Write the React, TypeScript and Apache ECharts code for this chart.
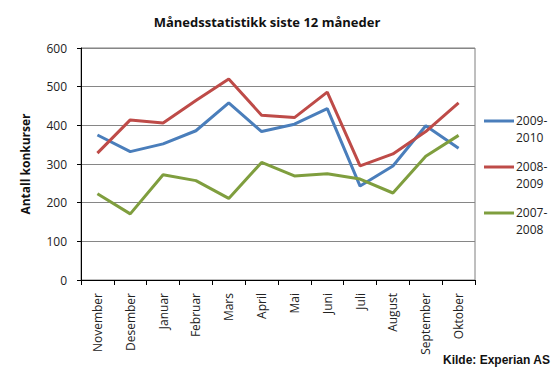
import React, { useEffect, useRef } from "react";
import * as echarts from "echarts";

const months = ["November", "Desember", "Januar", "Februar", "Mars", "April", "Mai", "Juni", "Juli", "August", "September", "Oktober"];
const seriesNames = ["2009-2010", "2008-2009", "2007-2008"];
const s2009_2010 = [375, 332, 352, 386, 458, 384, 403, 443, 243, 295, 399, 341];
const s2008_2009 = [328, 414, 406, 464, 520, 426, 420, 486, 295, 326, 384, 458];
const s2007_2008 = [223, 171, 272, 257, 211, 304, 269, 275, 261, 225, 320, 374];
const colors = ["#4a7ebb", "#be4b48", "#7f9e3e"];
const yTicks = { min: 0, max: 600, interval: 100 };

const FONT = "'Open Sans', 'Noto Sans', sans-serif";

export default function App() {
  const ref = useRef<HTMLDivElement>(null);
  useEffect(() => {
    if (!ref.current) return;
    const chart = echarts.init(ref.current, null, { renderer: "svg" });
    const data = [s2009_2010, s2008_2009, s2007_2008];
    const legendGraphics: any[] = [];
    seriesNames.forEach((name, i) => {
      const y = 121 + i * 46;
      legendGraphics.push({
        type: "line",
        shape: { x1: 484, y1: y, x2: 514, y2: y },
        style: { stroke: colors[i], lineWidth: 3 },
      });
      legendGraphics.push({
        type: "text",
        x: 516,
        y: y - 9,
        style: {
          text: name.replace("-", "-\n"),
          font: `12px ${FONT}`,
          fill: "#222",
          lineHeight: 17,
        },
      });
    });
    chart.setOption({
      animation: false,
      backgroundColor: "#ffffff",
      title: {
        text: "Månedsstatistikk siste 12 måneder",
        left: 262,
        textAlign: "center",
        top: 10,
        textStyle: { fontFamily: FONT, fontSize: 13, fontWeight: "bold", color: "#111" },
      },
      grid: {
        left: 81,
        right: 85,
        top: 48,
        bottom: 96,
        show: true,
        borderColor: "#7f7f7f",
        borderWidth: 1,
      },
      xAxis: {
        type: "category",
        data: months,
        boundaryGap: true,
        axisLine: { lineStyle: { color: "#000", width: 1 } },
        axisTick: { show: true, length: 5, lineStyle: { color: "#000" } },
        axisLabel: {
          rotate: 90,
          interval: 0,
          margin: 13,
          fontFamily: FONT,
          fontSize: 12,
          color: "#222",
        },
      },
      yAxis: {
        type: "value",
        min: yTicks.min,
        max: yTicks.max,
        interval: yTicks.interval,
        name: "Antall konkurser",
        nameLocation: "middle",
        nameGap: 50,
        nameTextStyle: { fontFamily: FONT, fontSize: 12, fontWeight: "bold", color: "#111" },
        axisLine: { show: true, lineStyle: { color: "#000", width: 1 } },
        axisTick: { show: true, length: 4, lineStyle: { color: "#000" } },
        axisLabel: { fontFamily: FONT, fontSize: 12, color: "#222", margin: 14 },
        splitLine: { lineStyle: { color: "#868686", width: 1 } },
      },
      series: seriesNames.map((name, i) => ({
        name,
        type: "line",
        data: data[i],
        symbol: "none",
        color: colors[i],
        lineStyle: { width: 3, color: colors[i] },
      })),
      graphic: [
        ...legendGraphics,
        {
          type: "text",
          left: 443,
          top: 354,
          style: {
            text: "Kilde: Experian AS",
            font: "bold 12px 'Liberation Sans', Arial, sans-serif",
            fill: "#111",
          },
        },
      ],
    });
    return () => chart.dispose();
  }, []);
  return <div ref={ref} style={{ width: 560, height: 376, position: "absolute", left: 0, top: 0 }} />;
}
